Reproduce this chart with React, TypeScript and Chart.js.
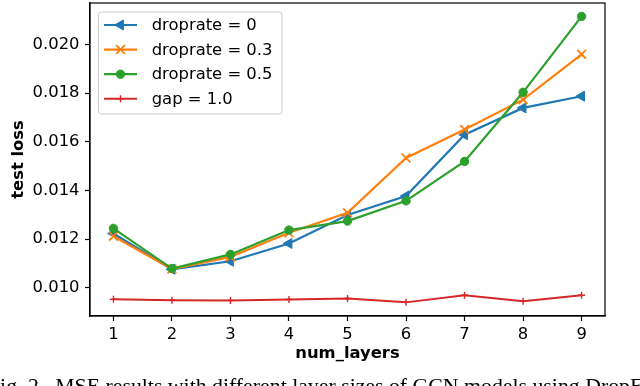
import React, { useEffect, useRef } from 'react';
import { Chart, registerables } from 'chart.js';

Chart.register(...registerables);

// ---- data ----
const layers = [1, 2, 3, 4, 5, 6, 7, 8, 9];
const drop0 = [0.01223, 0.01076, 0.01109, 0.01182, 0.01299, 0.01377, 0.01629, 0.01739, 0.01787];
const drop03 = [0.01212, 0.01077, 0.01127, 0.01226, 0.01308, 0.01533, 0.0165, 0.01773, 0.01959];
const drop05 = [0.01244, 0.01079, 0.01137, 0.01237, 0.01274, 0.01357, 0.01519, 0.01803, 0.02115];
const gap10 = [0.00953, 0.00949, 0.00948, 0.00952, 0.00956, 0.0094, 0.00969, 0.00945, 0.00969];

const xTicks = [1, 2, 3, 4, 5, 6, 7, 8, 9];
const yTicks = [0.01, 0.012, 0.014, 0.016, 0.018, 0.02];
const seriesLabels = ['droprate = 0', 'droprate = 0.3', 'droprate = 0.5', 'gap = 1.0'];
const seriesValues = [drop0, drop03, drop05, gap10];
const colors = ['#1f77b4', '#ff7f0e', '#2ca02c', '#d62728'];
const xTitle = 'num_layers';
const yTitle = 'test loss';
const caption = 'Fig. 2.  MSE results with different layer sizes of GCN models using DropE';

const FONT = 'DejaVu Sans';
const FS = 16.4;

type Style = { pointStyle: any; rotation: number; radius: number; borderWidth: number; lineWidth: number };
const styles: Style[] = [
  { pointStyle: 'triangle', rotation: -90, radius: 5.8, borderWidth: 1, lineWidth: 2.2 },
  { pointStyle: 'crossRot', rotation: 0, radius: 6.2, borderWidth: 1.8, lineWidth: 2.2 },
  { pointStyle: 'circle', rotation: 0, radius: 4.2, borderWidth: 1, lineWidth: 2.2 },
  { pointStyle: 'cross', rotation: 0, radius: 3.5, borderWidth: 1.4, lineWidth: 2 },
];

function drawMarker(ctx: CanvasRenderingContext2D, i: number, cx: number, cy: number) {
  const c = colors[i];
  const s = styles[i];
  const r = s.radius;
  ctx.save();
  ctx.fillStyle = c;
  ctx.strokeStyle = c;
  ctx.lineWidth = s.borderWidth;
  ctx.beginPath();
  if (i === 0) {
    ctx.moveTo(cx - r, cy);
    ctx.lineTo(cx + r / 2, cy - r * 0.866);
    ctx.lineTo(cx + r / 2, cy + r * 0.866);
    ctx.closePath();
    ctx.fill();
    ctx.stroke();
  } else if (i === 1) {
    const d = r * 0.7071;
    ctx.moveTo(cx - d, cy - d);
    ctx.lineTo(cx + d, cy + d);
    ctx.moveTo(cx - d, cy + d);
    ctx.lineTo(cx + d, cy - d);
    ctx.stroke();
  } else if (i === 2) {
    ctx.arc(cx, cy, r, 0, Math.PI * 2);
    ctx.fill();
    ctx.stroke();
  } else {
    ctx.moveTo(cx - r, cy);
    ctx.lineTo(cx + r, cy);
    ctx.moveTo(cx, cy - r);
    ctx.lineTo(cx, cy + r);
    ctx.stroke();
  }
  ctx.restore();
}

const framePlugin = {
  id: 'frameAndLegend',
  afterDraw(chart: any) {
    const { ctx, chartArea } = chart;
    const { left, top, right, bottom } = chartArea;
    ctx.save();
    ctx.strokeStyle = '#000';
    ctx.lineWidth = 1.2;
    ctx.strokeRect(left, top, right - left, bottom - top);

    // legend box
    const bx = 98.5, by = 12, bw = 183.5, bh = 102, rr = 3;
    ctx.beginPath();
    ctx.moveTo(bx + rr, by);
    ctx.lineTo(bx + bw - rr, by);
    ctx.arcTo(bx + bw, by, bx + bw, by + rr, rr);
    ctx.lineTo(bx + bw, by + bh - rr);
    ctx.arcTo(bx + bw, by + bh, bx + bw - rr, by + bh, rr);
    ctx.lineTo(bx + rr, by + bh);
    ctx.arcTo(bx, by + bh, bx, by + bh - rr, rr);
    ctx.lineTo(bx, by + rr);
    ctx.arcTo(bx, by, bx + rr, by, rr);
    ctx.closePath();
    ctx.fillStyle = 'rgba(255,255,255,0.8)';
    ctx.fill();
    ctx.strokeStyle = '#cccccc';
    ctx.lineWidth = 1;
    ctx.stroke();

    seriesLabels.forEach((lab, i) => {
      const y = 25 + i * 24.6;
      ctx.beginPath();
      ctx.strokeStyle = colors[i];
      ctx.lineWidth = styles[i].lineWidth;
      ctx.moveTo(104, y);
      ctx.lineTo(137, y);
      ctx.stroke();
      drawMarker(ctx, i, 120.5, y);
      ctx.fillStyle = '#000';
      ctx.font = `${FS}px "${FONT}"`;
      ctx.textBaseline = 'middle';
      ctx.textAlign = 'left';
      ctx.fillText(lab, 151.7, y + 1);
    });
    ctx.restore();
  },
};

export default function App() {
  const ref = useRef<HTMLCanvasElement>(null);

  useEffect(() => {
    const datasets = seriesValues.map((vals, i) => ({
      label: seriesLabels[i],
      data: layers.map((x, k) => ({ x, y: vals[k] })),
      borderColor: colors[i],
      backgroundColor: colors[i],
      borderWidth: styles[i].lineWidth,
      pointStyle: styles[i].pointStyle,
      pointRotation: styles[i].rotation,
      pointRadius: styles[i].radius,
      pointBorderWidth: styles[i].borderWidth,
      pointBackgroundColor: colors[i],
      pointBorderColor: colors[i],
      tension: 0,
      order: 3 - i,
    }));

    const tickFont = { family: FONT, size: FS };
    const titleFont = { family: FONT, size: FS, weight: 'bold' as const };
    const zeroPad = (s: any) => {
      s.paddingTop = 0;
      s.paddingBottom = 0;
      s.paddingLeft = 0;
      s.paddingRight = 0;
    };

    const chart = new Chart(ref.current as HTMLCanvasElement, {
      type: 'line',
      data: { datasets },
      plugins: [framePlugin],
      options: {
        responsive: false,
        animation: false,
        devicePixelRatio: 1,
        layout: { autoPadding: false, padding: { left: 0, right: 35, top: 3, bottom: 20 } },
        plugins: { legend: { display: false }, tooltip: { enabled: false } },
        scales: {
          x: {
            type: 'linear',
            min: 0.6,
            max: 9.4,
            afterBuildTicks: (s: any) => {
              s.ticks = xTicks.map((v) => ({ value: v }));
            },
            afterFit: (s: any) => {
              s.height = 50;
              zeroPad(s);
            },
            ticks: {
              font: tickFont,
              color: '#000',
              padding: 4,
              autoSkip: false,
              maxRotation: 0,
              callback: (v: any) => String(v),
            },
            grid: {
              display: true,
              drawOnChartArea: false,
              drawTicks: true,
              tickLength: 5,
              tickColor: '#000',
              tickWidth: 1.2,
            },
            border: { display: true, color: '#000', width: 1.2 },
            title: { display: true, text: xTitle, font: titleFont, color: '#000', padding: { top: 0, bottom: 2 } },
          },
          y: {
            type: 'linear',
            min: 0.00884,
            max: 0.0217,
            afterBuildTicks: (s: any) => {
              s.ticks = yTicks.map((v) => ({ value: v }));
            },
            afterFit: (s: any) => {
              s.width = 90;
              zeroPad(s);
            },
            ticks: {
              font: tickFont,
              color: '#000',
              padding: 5.5,
              autoSkip: false,
              callback: (v: any) => Number(v).toFixed(3),
            },
            grid: {
              display: true,
              drawOnChartArea: false,
              drawTicks: true,
              tickLength: 5,
              tickColor: '#000',
              tickWidth: 1.2,
            },
            border: { display: true, color: '#000', width: 1.2 },
            title: { display: true, text: yTitle, font: titleFont, color: '#000', padding: { top: 9, bottom: 0 } },
          },
        },
      } as any,
    });
    return () => chart.destroy();
  }, []);

  return (
    <div
      style={{
        position: 'fixed',
        left: 0,
        top: 0,
        width: 640,
        height: 386,
        overflow: 'hidden',
        background: '#fff',
      }}
    >
      <canvas
        ref={ref}
        width={640}
        height={386}
        style={{ position: 'absolute', left: 0, top: 0, width: 640, height: 386 }}
      />
      <div
        style={{
          position: 'absolute',
          left: -12,
          top: 375,
          fontFamily: '"Liberation Serif", serif',
          fontSize: 21.8,
          lineHeight: '22px',
          whiteSpace: 'pre',
          color: '#000',
        }}
      >
        {caption}
      </div>
    </div>
  );
}
